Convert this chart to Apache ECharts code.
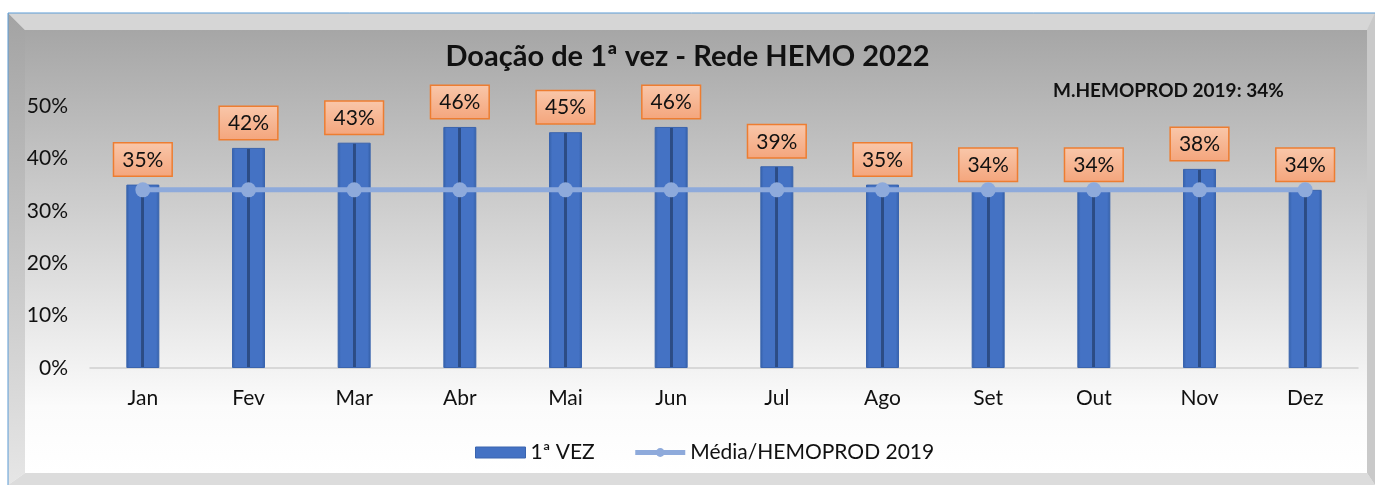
<!DOCTYPE html>
<html>
<head>
<meta charset="utf-8">
<script src="https://cdn.jsdelivr.net/npm/echarts@6/dist/echarts.min.js"></script>
<style>
  html, body { margin: 0; padding: 0; background: #fff; }
  #chart { width: 1375px; height: 485px; }
</style>
</head>
<body>
<div id="chart"></div>
<script>
const months = ['Jan', 'Fev', 'Mar', 'Abr', 'Mai', 'Jun', 'Jul', 'Ago', 'Set', 'Out', 'Nov', 'Dez'];
const primeiraVez = [0.35, 0.42, 0.43, 0.46, 0.45, 0.46, 0.385, 0.35, 0.34, 0.34, 0.38, 0.34];
const labelsVez = ['35%', '42%', '43%', '46%', '45%', '46%', '39%', '35%', '34%', '34%', '38%', '34%'];
const media2019 = [0.34, 0.34, 0.34, 0.34, 0.34, 0.34, 0.34, 0.34, 0.34, 0.34, 0.34, 0.34];

const FONT = 'Lato, "Open Sans", sans-serif';
const chart = echarts.init(document.getElementById('chart'));

// moldura com efeito de bisel (como no Excel)
const frame = [
  { type: 'polygon', shape: { points: [[8, 13], [1375, 13], [1375, 30], [25, 30]] }, style: { fill: '#d6d6d6' }, z: -10 },
  { type: 'polygon', shape: { points: [[8, 13], [25, 30], [25, 473], [8, 485]] },
    style: { fill: new echarts.graphic.LinearGradient(0, 0, 0, 1, [{ offset: 0, color: '#a3a3a3' }, { offset: 1, color: '#e6e6e6' }]) }, z: -10 },
  { type: 'polygon', shape: { points: [[25, 473], [1367, 473], [1375, 485], [8, 485]] }, style: { fill: '#dcdcdc' }, z: -10 },
  { type: 'polygon', shape: { points: [[1367, 30], [1375, 13], [1375, 485], [1367, 473]] }, style: { fill: '#c9c9c9' }, z: -10 },
  { type: 'rect', shape: { x: 25, y: 30, width: 1342, height: 443 },
    style: { fill: new echarts.graphic.LinearGradient(0, 0, 0, 1, [
      { offset: 0, color: '#a6a6a6' }, { offset: 0.5, color: '#d8d8d8' }, { offset: 0.85, color: '#fbfbfb' }, { offset: 1, color: '#ffffff' }]) }, z: -10 },
  { type: 'polyline', shape: { points: [[8, 485], [8, 13], [1375, 13]] }, style: { stroke: '#5b9bd5', lineWidth: 1, fill: null }, z: -9 },
  { type: 'text', left: 1053, top: 81, style: { text: 'M.HEMOPROD 2019: 34%', font: 'bold 19px ' + FONT, fill: '#111' } }
];

chart.setOption({
  animation: false,
  textStyle: { fontFamily: FONT },
  title: {
    text: 'Doação de 1ª vez - Rede HEMO 2022',
    left: 'center', top: 37,
    textStyle: { fontSize: 29, fontWeight: 'bold', color: '#111', fontFamily: FONT }
  },
  graphic: frame,
  legend: {
    bottom: 17, left: 470, itemGap: 38, itemWidth: 50, itemHeight: 11,
    textStyle: { fontSize: 21, color: '#111', fontFamily: FONT },
    lineStyle: { width: 5 },
    data: [
      { name: '1ª VEZ', icon: 'rect', itemStyle: { color: '#4472c4', borderColor: '#3a64ae', borderWidth: 1 } },
      { name: 'Média/HEMOPROD 2019' }
    ]
  },
  grid: { left: 90, right: 17, top: 106, bottom: 117 },
  xAxis: {
    type: 'category', data: months,
    axisTick: { show: false },
    axisLine: { lineStyle: { color: '#d0d0d0', width: 1.5 } },
    axisLabel: { fontSize: 21, color: '#111', margin: 20 }
  },
  yAxis: {
    type: 'value', min: 0, max: 0.5, interval: 0.1,
    splitLine: { show: false },
    axisLabel: {
      fontSize: 21, color: '#111', margin: 22,
      formatter: v => Math.round(v * 100) + '%'
    }
  },
  series: [
    {
      name: '1ª VEZ', type: 'bar', data: primeiraVez, barWidth: 33,
      itemStyle: {
        color: new echarts.graphic.LinearGradient(0, 0, 1, 0, [
          { offset: 0, color: '#3560a8' }, { offset: 0.1, color: '#4472c4' },
          { offset: 0.45, color: '#4472c4' }, { offset: 0.46, color: '#2c4c85' },
          { offset: 0.54, color: '#2c4c85' }, { offset: 0.55, color: '#4472c4' },
          { offset: 0.9, color: '#4472c4' }, { offset: 1, color: '#3560a8' }
        ]),
        borderColor: '#3a64ae', borderWidth: 1
      },
      label: {
        show: true, position: 'top', distance: 9,
        formatter: p => labelsVez[p.dataIndex],
        fontSize: 21, color: '#111',
        backgroundColor: new echarts.graphic.LinearGradient(0, 0, 0, 1, [
          { offset: 0, color: '#f9c7aa' }, { offset: 1, color: '#f4a57c' }]),
        borderColor: '#ed7d31', borderWidth: 1.5,
        padding: [6, 8, 5, 8]
      },
      z: 2
    },
    {
      name: 'Média/HEMOPROD 2019', type: 'line', data: media2019,
      symbol: 'circle', symbolSize: 15,
      lineStyle: { color: '#8eaadb', width: 5 },
      itemStyle: { color: '#8eaadb' },
      z: 3
    }
  ]
});
</script>
</body>
</html>
